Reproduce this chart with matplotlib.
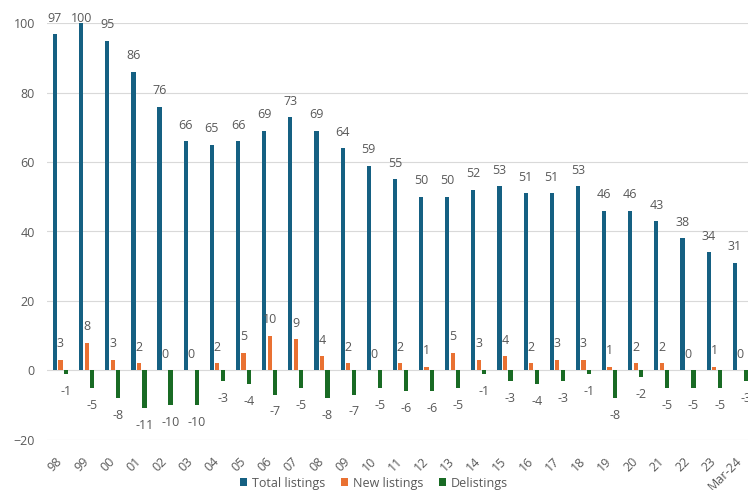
import numpy as np
import matplotlib.pyplot as plt

# listings by year
years = ['98', '99', '00', '01', '02', '03', '04', '05', '06', '07', '08', '09', '10',
         '11', '12', '13', '14', '15', '16', '17', '18', '19', '20', '21', '22', '23', 'Mar-24']
total_listings = [97, 100, 95, 86, 76, 66, 65, 66, 69, 73, 69, 64, 59,
                  55, 50, 50, 52, 53, 51, 51, 53, 46, 46, 43, 38, 34, 31]
new_listings = [3, 8, 3, 2, 0, 0, 2, 5, 10, 9, 4, 2, 0,
                2, 1, 5, 3, 4, 2, 3, 3, 1, 2, 2, 0, 1, 0]
delistings = [-1, -5, -8, -11, -10, -10, -3, -4, -7, -5, -8, -7, -5,
              -6, -6, -5, -1, -3, -4, -3, -1, -8, -2, -5, -5, -5, -3]

plt.rcParams['font.family'] = ['Open Sans', 'DejaVu Sans']
plt.rcParams['font.size'] = 9

grey = '#595959'
col_total = '#156082'
col_new = '#E97132'
col_del = '#196B24'

fig = plt.figure(figsize=(7.48, 4.9), dpi=100)
# plot area runs a little past the right edge
ax = fig.add_axes([47.4 / 748, 1 - 439.7 / 490, 706 / 748, (439.7 - 23.3) / 490])

x = np.arange(len(years))
w = 0.16
off = 0.21

b1 = ax.bar(x - off, total_listings, w, color=col_total, label='Total listings', zorder=3)
b2 = ax.bar(x, new_listings, w, color=col_new, label='New listings', zorder=3)
b3 = ax.bar(x + off, delistings, w, color=col_del, label='Delistings', zorder=3)

# value labels (offset in data units, ~16px)
up = 4.6
for i in range(len(years)):
    ax.text(x[i] - off, min(total_listings[i] + up, 101.5), str(total_listings[i]),
            ha='center', va='center', color=grey, fontsize=9, clip_on=False)
    ax.text(x[i], new_listings[i] + up, str(new_listings[i]),
            ha='center', va='center', color=grey, fontsize=9)
    ax.text(x[i] + off, delistings[i] - 5.0, str(delistings[i]),
            ha='center', va='center', color=grey, fontsize=9)

ax.set_xlim(-0.5, len(years) - 0.5)
ax.set_ylim(-20, 100)
ax.set_yticks(range(-20, 101, 20))
ax.yaxis.grid(True, color='#D9D9D9', linewidth=0.8, zorder=0)
ax.set_axisbelow(True)
for s in ax.spines.values():
    s.set_visible(False)

ax.set_xticks(x)
ax.set_xticklabels(years, rotation=45, ha='right', va='center', rotation_mode='anchor')
ax.tick_params(axis='x', length=0, pad=14, colors=grey, labelsize=9)
ax.tick_params(axis='y', length=0, pad=9, colors=grey, labelsize=9)

fig.legend(handles=[b1, b2, b3], loc='center', bbox_to_anchor=(0.5, 1 - 483 / 490),
           ncol=3, frameon=False, fontsize=9, handlelength=0.6, handleheight=0.6,
           handletextpad=0.4, columnspacing=1.2, labelcolor=grey)

plt.savefig('out.png', dpi=100)
